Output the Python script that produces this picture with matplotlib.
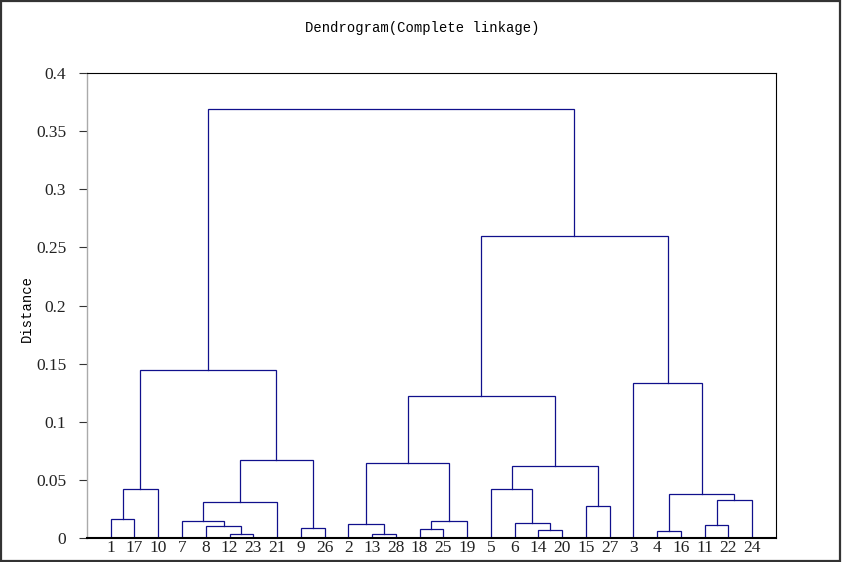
import matplotlib
matplotlib.use('Agg')
import matplotlib.pyplot as plt
from matplotlib.patches import Rectangle

# observations 1..28, clusters are numbered 29, 30, ... in the order below
n_obs = 28
merge_left = [13, 12, 4, 14, 18, 9, 8, 11, 2, 6, 7, 33, 1, 15,
              39, 36, 31, 41, 5, 47, 37, 43, 49, 3, 46, 51, 53]
merge_right = [28, 23, 16, 20, 25, 26, 30, 22, 29, 32, 35, 19, 17, 27,
               21, 24, 44, 10, 38, 42, 40, 34, 48, 45, 50, 52, 54]
merge_height = [0.0034, 0.0036, 0.0062, 0.0067, 0.0081, 0.0082, 0.0102,
                0.0112, 0.0119, 0.0127, 0.0146, 0.0146, 0.0166, 0.0273,
                0.0313, 0.0323, 0.0377, 0.0421, 0.0421, 0.0618, 0.0643,
                0.0668, 0.1220, 0.1332, 0.1445, 0.2600, 0.3690]

yticks = [0, 0.05, 0.1, 0.15, 0.2, 0.25, 0.3, 0.35, 0.4]
ytick_labels = ['0', '0.05', '0.1', '0.15', '0.2', '0.25', '0.3', '0.35', '0.4']

line_color = '#10108c'
mono = 'Liberation Mono'
serif = 'Liberation Serif'

children = {}
heights = {}
for k in range(len(merge_left)):
    cid = n_obs + 1 + k
    children[cid] = (merge_left[k], merge_right[k])
    heights[cid] = merge_height[k]
root = n_obs + len(merge_left)

# walk the tree to get the leaf order
leaf_order = []
def collect(node):
    if node <= n_obs:
        leaf_order.append(node)
    else:
        collect(children[node][0])
        collect(children[node][1])
collect(root)
leaf_pos = {leaf: i + 1 for i, leaf in enumerate(leaf_order)}

fig = plt.figure(figsize=(8.42, 5.62), dpi=100)
ax = fig.add_axes([0.1033, 0.0427, 0.8183, 0.8274])

def draw(node):
    # returns (x, y) of the node's top
    if node <= n_obs:
        return leaf_pos[node], 0.0
    xl, yl = draw(children[node][0])
    xr, yr = draw(children[node][1])
    h = heights[node]
    ax.plot([xl, xl, xr, xr], [yl, h, h, yr], color=line_color, lw=0.9,
            solid_joinstyle='miter')
    return (xl + xr) / 2, h

draw(root)

ax.set_xlim(0, n_obs + 1)
ax.set_ylim(0, 0.4)
ax.set_xticks(range(1, n_obs + 1))
ax.set_xticklabels([str(v) for v in leaf_order], fontfamily=serif, fontsize=12.5,
                   color='#222222')
ax.set_yticks(yticks)
ax.set_yticklabels(ytick_labels, fontfamily=serif, fontsize=12.5, color='#222222')
ax.tick_params(axis='x', length=0, pad=1.5)
ax.tick_params(axis='y', direction='out', length=6, width=0.8, pad=9,
               color='#333333')

for side in ['top', 'right']:
    ax.spines[side].set_linewidth(0.8)
    ax.spines[side].set_color('black')
ax.spines['left'].set_color('#aaaaaa')
ax.spines['left'].set_linewidth(1.0)
ax.spines['bottom'].set_color('black')
ax.spines['bottom'].set_linewidth(1.5)

fig.text(27 / 842, 1 - 308 / 562, 'Distance', rotation=90, ha='center',
         va='center', fontfamily=mono, fontsize=10)
fig.text(0.501, 0.950, 'Dendrogram(Complete linkage)', ha='center',
         va='center', fontfamily=mono, fontsize=10)

# outer frame around the figure
fig.patches.append(Rectangle((0.001, 0.002), 0.997, 0.996, transform=fig.transFigure,
                             fill=False, edgecolor='#333333', linewidth=1.6))

fig.savefig('out.png', dpi=100)
